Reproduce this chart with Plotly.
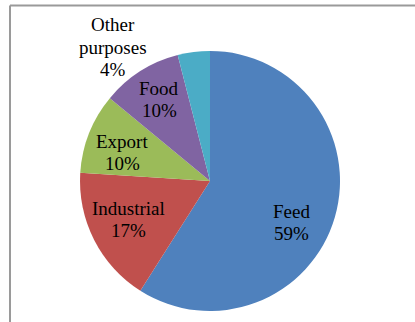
import plotly.graph_objects as go

labels = ["Feed", "Industrial", "Export", "Food", "Other purposes"]
values = [59, 17, 10, 10, 4]
colors = ["#4F81BD", "#C0504D", "#9BBB59", "#8064A2", "#4BACC6"]
label_lines = [["Feed"], ["Industrial"], ["Export"], ["Food"], ["Other", "purposes"]]
# label block centres, in pixels
label_px = [(291, 222), (128, 219), (122, 152), (159, 99), (113, 47)]

W, H = 415, 322
ML, MR, MT, MB = 80, 75, 51, 11
PW, PH = W - ML - MR, H - MT - MB
SERIF = "Liberation Serif, Times New Roman, serif"
FS = 19
LINE = 22

def px(x):
    return (x - ML) / PW

def py(y):
    return (H - y - MB) / PH

fig = go.Figure(go.Pie(
    labels=labels,
    values=values,
    sort=False,
    direction="clockwise",
    rotation=0,
    marker=dict(colors=colors, line=dict(width=0)),
    textinfo="none",
    showlegend=False,
    hoverinfo="label+percent",
))

for lines, v, (x, y) in zip(label_lines, values, label_px):
    rows = lines + [f"{v}%"]
    n = len(rows)
    for i, r in enumerate(rows):
        yy = y + (i - (n - 1) / 2) * LINE
        fig.add_annotation(
            x=px(x), y=py(yy), xref="paper", yref="paper",
            text=r, showarrow=False,
            xanchor="center", yanchor="middle",
            font=dict(family=SERIF, size=FS, color="black"),
        )

border = dict(color="#9A9A9A", width=2)
fig.add_shape(type="line", xref="paper", yref="paper",
              x0=px(10), x1=px(420), y0=py(5.5), y1=py(5.5), line=border)
fig.add_shape(type="line", xref="paper", yref="paper",
              x0=px(10), x1=px(10), y0=py(5.5), y1=py(330), line=border)

fig.update_layout(
    width=W, height=H,
    margin=dict(l=ML, r=MR, t=MT, b=MB),
    paper_bgcolor="white",
    plot_bgcolor="white",
    font=dict(family=SERIF),
)

fig.write_html("out.html")
